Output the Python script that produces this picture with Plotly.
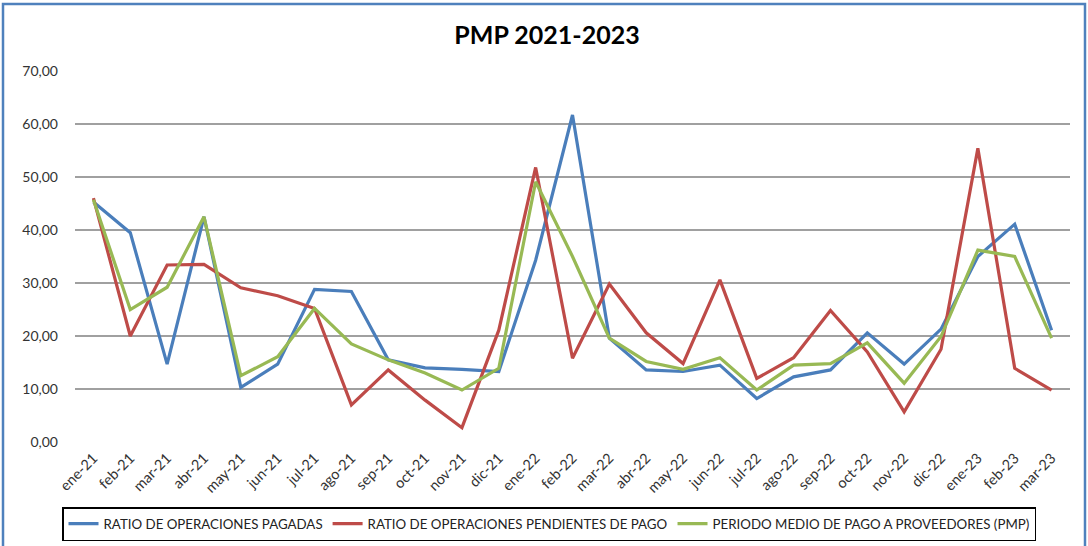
import plotly.graph_objects as go

months = ["ene-21", "feb-21", "mar-21", "abr-21", "may-21", "jun-21", "jul-21", "ago-21", "sep-21",
          "oct-21", "nov-21", "dic-21", "ene-22", "feb-22", "mar-22", "abr-22", "may-22", "jun-22",
          "jul-22", "ago-22", "sep-22", "oct-22", "nov-22", "dic-22", "ene-23", "feb-23", "mar-23"]

pagadas = [45.3, 39.5, 14.7, 42.5, 10.3, 14.7, 28.8, 28.4, 15.5, 14.0, 13.7, 13.3, 34.3, 61.7,
           19.6, 13.6, 13.3, 14.5, 8.2, 12.3, 13.6, 20.6, 14.7, 21.3, 35.0, 41.1, 21.1]
pendientes = [46.0, 20.0, 33.4, 33.5, 29.1, 27.6, 25.2, 7.0, 13.6, 7.9, 2.7, 21.1, 51.8, 15.8,
              29.8, 20.6, 14.8, 30.6, 12.0, 15.9, 24.8, 17.0, 5.7, 17.5, 55.4, 13.9, 9.8]
pmp = [45.7, 25.0, 29.2, 42.5, 12.5, 16.1, 25.2, 18.5, 15.5, 13.0, 9.8, 13.9, 49.1, 35.0,
       19.6, 15.2, 13.7, 15.9, 9.8, 14.5, 14.8, 18.7, 11.1, 19.9, 36.2, 35.0, 19.6]

names = ["RATIO DE OPERACIONES PAGADAS",
         "RATIO DE OPERACIONES PENDIENTES DE PAGO",
         "PERIODO MEDIO DE PAGO A PROVEEDORES (PMP)"]
colors = ["#4A7EBB", "#BE4B48", "#98B954"]

fig = go.Figure()
for vals, name, col in zip([pagadas, pendientes, pmp], names, colors):
    fig.add_trace(go.Scatter(x=months, y=vals, name=name, mode="lines",
                             line=dict(color=col, width=3.2)))

W, H = 1088, 546
L, R, T, B = 75, 18, 71, 104
pw, ph = W - L - R, H - T - B

def px(x):
    return (x - L) / pw

def py(y):
    return (H - B - y) / ph

FONT = "Lato"

fig.update_layout(
    width=W, height=H,
    margin=dict(l=L, r=R, t=T, b=B, autoexpand=False),
    paper_bgcolor="white", plot_bgcolor="white",
    separators=",.",
    title=dict(text="<b>PMP 2021-2023</b>", x=547 / W, xanchor="center",
               y=1 - 35 / H, yanchor="middle",
               font=dict(family=FONT, size=25, color="black")),
    xaxis=dict(type="category", range=[-0.5, len(months) - 0.5], tickangle=-45,
               showgrid=False, showline=False, ticks="", automargin=False,
               ticklabelstandoff=4,
               tickfont=dict(family=FONT, size=14.5, color="#333333")),
    yaxis=dict(range=[0, 70], dtick=10, tickformat=".2f", showgrid=True,
               gridcolor="#A0A0A0", gridwidth=1.5, zeroline=False, showline=False,
               ticks="", ticklabelstandoff=16, automargin=False,
               tickfont=dict(family=FONT, size=14, color="#333333")),
    legend=dict(orientation="h", x=px(549), xanchor="center", y=py(507), yanchor="top",
                bordercolor="black", borderwidth=1.5, bgcolor="white",
                font=dict(family=FONT, size=13.3, color="#222222"),
                itemwidth=30, tracegroupgap=0),
    shapes=[dict(type="rect", xref="paper", yref="paper",
                 x0=px(3), x1=px(1085), y0=py(560), y1=py(4),
                 line=dict(color="#4F81BD", width=2.5), fillcolor="rgba(0,0,0,0)",
                 layer="below")],
    showlegend=True,
)

fig.write_html("out.html", config={"displayModeBar": False},
               post_script="document.body.style.margin='0';")
